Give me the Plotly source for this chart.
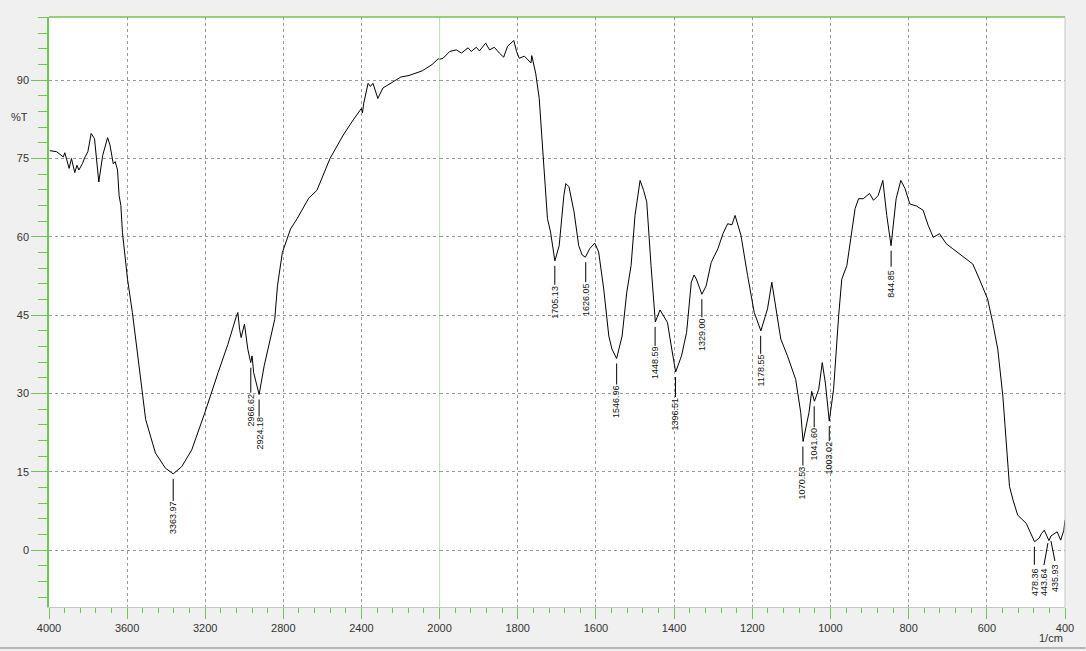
import plotly.graph_objects as go

# ---------------- data ----------------
wn_high = [3996, 3961, 3927, 3919, 3897, 3885, 3868, 3857, 3847, 3829, 3818, 3801,
           3784, 3767, 3745, 3725, 3700, 3688, 3671, 3661, 3649, 3641, 3632, 3624,
           3598, 3573, 3539, 3505, 3455, 3404, 3364, 3320, 3269, 3202, 3134, 3084,
           3042, 3033, 3024, 3016, 2999, 2982, 2967, 2960, 2952, 2924, 2898, 2864,
           2844, 2830, 2805, 2763, 2729, 2670, 2628, 2561, 2493, 2442, 2400, 2395,
           2388, 2366, 2354, 2341, 2316, 2290, 2240, 2198, 2156, 2088, 2038, 2007, 2000]
t_high = [76.5, 76.3, 75.3, 76.1, 73.1, 75.0, 72.3, 73.7, 72.8, 74.0, 75.1, 76.3,
          79.8, 78.8, 70.5, 75.6, 79.0, 77.6, 74.0, 74.4, 72.8, 67.9, 66.0, 60.9,
          51.9, 45.5, 35.3, 25.0, 18.6, 15.7, 14.6, 16.0, 19.2, 26.3, 34.0, 39.4,
          44.6, 45.5, 42.3, 40.7, 43.3, 38.5, 35.9, 37.2, 34.0, 29.8, 35.3, 41.0,
          44.2, 50.6, 57.0, 61.5, 63.5, 67.4, 68.9, 75.0, 79.5, 82.4, 84.6, 83.7,
          85.6, 89.4, 88.8, 89.4, 86.5, 88.5, 89.7, 90.6, 90.9, 91.8, 93.0, 94.1, 94.0]

wn_low = [2000, 1991, 1974, 1957, 1944, 1927, 1919, 1906, 1898, 1882, 1872, 1860,
          1847, 1836, 1826, 1817, 1810, 1803, 1796, 1783, 1775, 1766, 1764, 1758,
          1754, 1745, 1737, 1728, 1724, 1716, 1705, 1694, 1682, 1677, 1669, 1656,
          1644, 1635, 1627, 1616, 1603, 1593, 1580, 1567, 1559, 1547, 1533, 1521,
          1510, 1500, 1487, 1478, 1470, 1459, 1448, 1436, 1428, 1417, 1406, 1396,
          1381, 1368, 1356, 1349, 1343, 1329, 1318, 1305, 1288, 1275, 1263, 1252,
          1244, 1229, 1212, 1195, 1178, 1161, 1150, 1140, 1127, 1110, 1089, 1076,
          1070, 1055, 1048, 1041, 1030, 1021, 1013, 1003, 992, 979, 971, 958,
          945, 937, 928, 916, 900, 890, 878, 866, 856, 845, 832, 820,
          809, 797, 780, 763, 750, 737, 721, 704, 687, 665, 648, 636,
          619, 598, 585, 572, 559, 546, 542, 533, 521, 499, 483, 478,
          466, 460, 453, 444, 441, 436, 420, 411, 403, 400]
t_low = [94.0, 94.2, 95.5, 95.8, 95.2, 96.2, 95.5, 96.3, 95.6, 97.1, 95.8, 96.3,
         95.2, 94.4, 96.5, 97.1, 97.6, 95.5, 94.2, 94.6, 94.0, 93.3, 94.7, 92.3,
         91.3, 86.5, 77.0, 67.3, 63.5, 60.9, 55.4, 58.3, 67.9, 70.2, 69.6, 64.8,
         58.3, 56.5, 56.1, 57.7, 58.8, 57.1, 50.0, 41.0, 38.5, 36.7, 41.0, 49.4,
         54.5, 64.1, 70.8, 68.9, 66.7, 54.5, 43.7, 46.0, 44.9, 43.6, 38.5, 34.1,
         37.2, 41.7, 51.3, 52.7, 51.9, 49.0, 50.6, 55.1, 57.7, 60.6, 62.5, 62.3,
         64.1, 60.3, 52.6, 45.5, 42.0, 46.2, 51.3, 46.8, 40.4, 37.2, 32.7, 26.3,
         20.8, 26.3, 30.4, 28.5, 30.8, 35.9, 32.0, 24.7, 30.8, 44.9, 51.9, 54.5,
         60.9, 65.4, 67.3, 67.3, 68.3, 67.0, 67.9, 70.8, 64.1, 58.3, 67.3, 70.8,
         69.2, 66.3, 65.9, 65.1, 62.2, 59.9, 60.6, 58.7, 57.7, 56.4, 55.4, 54.8,
         51.9, 48.1, 43.6, 38.5, 29.5, 16.5, 12.2, 9.6, 6.7, 5.1, 2.6, 1.6,
         2.3, 3.2, 3.8, 2.3, 1.8, 2.7, 3.5, 1.9, 3.8, 5.8]

peak_wn = [3363.97, 2966.62, 2924.18, 1705.13, 1626.05, 1546.96, 1448.59, 1396.51,
           1329.00, 1178.55, 1070.53, 1041.60, 1003.02, 844.85, 478.36, 443.64, 435.93]
peak_t = [14.6, 35.9, 29.8, 55.4, 56.1, 36.7, 43.7, 34.1,
          49.0, 42.0, 20.8, 28.5, 24.7, 58.3, 1.6, 2.3, 2.7]
peak_labels = ["3363.97", "2966.62", "2924.18", "1705.13", "1626.05", "1546.96",
               "1448.59", "1396.51", "1329.00", "1178.55", "1070.53", "1041.60",
               "1003.02", "844.85", "478.36", "443.64", "435.93"]

y_ticks = [0, 15, 30, 45, 60, 75, 90]
x_ticks_high = [4000, 3600, 3200, 2800, 2400]
x_ticks_low = [2000, 1800, 1600, 1400, 1200, 1000, 800, 600, 400]

# ---------------- styling / layout ----------------
GREEN = "#72c552"
GRID = "#9a9a9a"
AXLINE = "#c4c4c4"
FONT = "Liberation Sans, Arial, sans-serif"
split = 0.3844

# label placement in px (layout only): centre of text below the peak, sideways shift
label_dy = [44, 47, 39, 41, 42, 43, 41, 42, 40, 40, 41, 43, 37, 38, 40, 44, 42]
label_dx = [0, 0, 0, 0, 0, 0, 0, 0, 0, 0, 0, 0, 0, 0, 0, -4, 4]
HALF_TEXT = 17
GAP = 5

fig = go.Figure()
fig.add_trace(go.Scatter(x=wn_high, y=t_high, mode="lines", xaxis="x", yaxis="y",
                         line=dict(color="black", width=1), showlegend=False))
fig.add_trace(go.Scatter(x=wn_low, y=t_low, mode="lines", xaxis="x2", yaxis="y",
                         line=dict(color="black", width=1), showlegend=False))

annotations = []
shapes = []
for w, t, lab, dy, dx in zip(peak_wn, peak_t, peak_labels, label_dy, label_dx):
    xr = "x" if w > 2000 else "x2"
    annotations.append(dict(
        x=w, y=t, xref=xr, yref="y", text=lab, textangle=-90, showarrow=False,
        xanchor="center", yanchor="middle", xshift=dx, yshift=-dy,
        font=dict(family=FONT, size=9, color="#111111")))
    shapes.append(dict(
        type="line", xref=xr, yref="y", xsizemode="pixel", ysizemode="pixel",
        xanchor=w, yanchor=t, x0=0, x1=dx, y0=-GAP, y1=-(dy - HALF_TEXT),
        line=dict(color="black", width=1)))

annotations.append(dict(x=-0.0185, y=83, xref="paper", yref="y", text="%T",
                        showarrow=False, xanchor="right", yanchor="middle",
                        font=dict(family=FONT, size=11, color="#333333")))
annotations.append(dict(x=1.0, y=-0.0525, xref="paper", yref="paper", text="1/cm",
                        showarrow=False, xanchor="right", yanchor="middle",
                        font=dict(family=FONT, size=11, color="#333333")))

shapes += [
    dict(type="line", xref="paper", yref="paper", x0=0, x1=1, y0=1, y1=1,
         line=dict(color=GREEN, width=1.5)),
    dict(type="line", xref="paper", yref="paper", x0=1, x1=1, y0=0, y1=1,
         line=dict(color=AXLINE, width=1)),
    dict(type="line", xref="x2", yref="paper", x0=2000, x1=2000, y0=0, y1=1,
         line=dict(color=GREEN, width=1), layer="above"),
    dict(type="line", xref="paper", yref="paper", x0=-0.05, x1=1.02, y0=-0.0695, y1=-0.0695,
         line=dict(color="#b5b5b5", width=2)),
]

common_x = dict(
    showline=True, linecolor=AXLINE, linewidth=1, ticks="outside", ticklen=11,
    tickcolor=GREEN, tickwidth=1, showgrid=True, gridcolor=GRID, gridwidth=1,
    griddash="3px,3px", zeroline=False, tickfont=dict(family=FONT, size=11, color="#333333"),
    tickmode="array",
)

fig.update_layout(
    width=1086, height=651,
    margin=dict(l=49, r=12, t=17, b=44),
    paper_bgcolor="#f0f0f0", plot_bgcolor="white",
    showlegend=False,
    xaxis=dict(domain=[0, split], range=[4000, 2000], tickvals=x_ticks_high,
               anchor="y",
               minor=dict(tickmode="linear", tick0=4000, dtick=80, ticklen=5,
                          tickcolor=GREEN, ticks="outside", showgrid=False),
               **common_x),
    xaxis2=dict(domain=[split, 1], range=[2000, 400], tickvals=x_ticks_low,
                anchor="y",
                minor=dict(tickmode="linear", tick0=2000, dtick=40, ticklen=5,
                           tickcolor=GREEN, ticks="outside", showgrid=False),
                **common_x),
    yaxis=dict(range=[-10.9, 102.1], tickmode="array", tickvals=y_ticks, anchor="x",
               showline=True, linecolor=GREEN, linewidth=1.5, ticks="outside",
               ticklen=16, tickcolor=GREEN, showgrid=True, gridcolor=GRID,
               griddash="3px,3px", zeroline=False,
               tickfont=dict(family=FONT, size=11, color="#333333"),
               minor=dict(tickmode="linear", tick0=0, dtick=3, ticklen=9,
                          tickcolor=GREEN, ticks="outside", showgrid=False)),
    annotations=annotations,
    shapes=shapes,
)

fig.write_html("out.html")
